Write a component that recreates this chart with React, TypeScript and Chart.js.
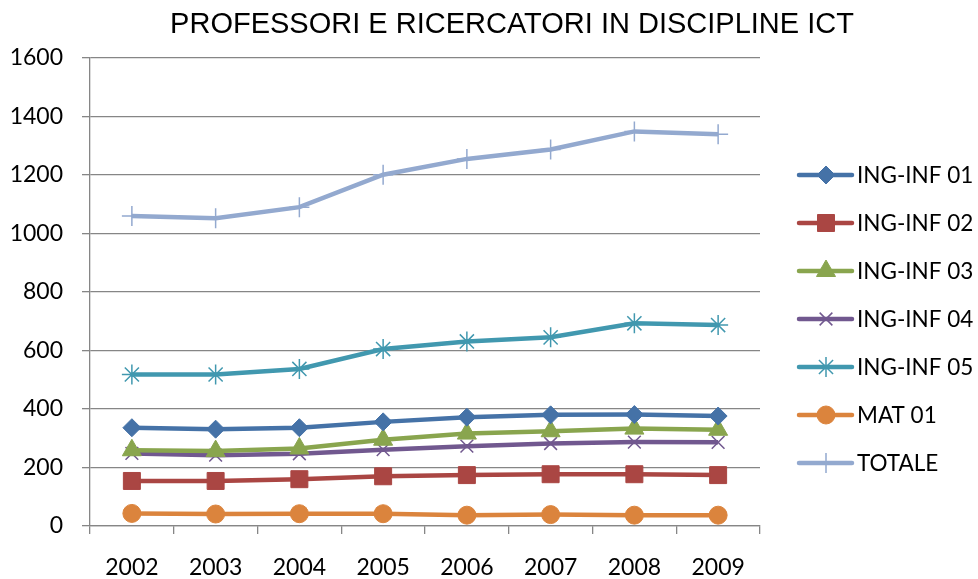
import React, { useEffect, useRef } from "react";
import { Chart, registerables } from "chart.js";
import { drawPoint } from "chart.js/helpers";

Chart.register(...registerables);

const years = ["2002", "2003", "2004", "2005", "2006", "2007", "2008", "2009"];
const ingInf01 = [336, 331, 336, 356, 372, 380, 381, 376];
const ingInf02 = [154, 154, 160, 170, 174, 177, 177, 174];
const ingInf03 = [259, 256, 265, 295, 316, 324, 333, 329];
const ingInf04 = [248, 242, 247, 261, 273, 282, 287, 286];
const ingInf05 = [518, 518, 537, 605, 631, 645, 693, 687];
const mat01 = [43, 41, 42, 42, 37, 39, 37, 37];
const totale = [1060, 1052, 1090, 1201, 1255, 1287, 1349, 1339];
const yTicks = [0, 200, 400, 600, 800, 1000, 1200, 1400, 1600];
const title = "PROFESSORI E RICERCATORI IN DISCIPLINE ICT";

const LABEL_FONT = "Lato, 'Open Sans', sans-serif";

export default function App() {
  const ref = useRef<HTMLCanvasElement | null>(null);

  useEffect(() => {
    if (!ref.current) return;
    const mk = (label: string, data: number[], color: string, style: any, radius: number, bw: number, fill = true) => ({
      label,
      data,
      borderColor: color,
      backgroundColor: color,
      borderWidth: 4.5,
      pointStyle: style,
      pointRadius: radius,
      pointBorderWidth: bw,
      pointBackgroundColor: fill ? color : "transparent",
      pointBorderColor: color,
      tension: 0,
    });
    const datasets = [
      mk("ING-INF 01", ingInf01, "#4572A7", "rectRot", 9, 1),
      mk("ING-INF 02", ingInf02, "#AA4643", "rect", 12, 1),
      mk("ING-INF 03", ingInf03, "#89A54E", "triangle", 11, 1),
      mk("ING-INF 04", ingInf04, "#71588F", "crossRot", 9, 1.5, false),
      mk("ING-INF 05", ingInf05, "#4198AF", "star", 10, 1.5, false),
      mk("MAT 01", mat01, "#DB843D", "circle", 9, 1),
      mk("TOTALE", totale, "#93A9CF", "cross", 10, 1.5, false),
    ];

    const legendPlugin = {
      id: "customLegend",
      afterDraw(chart: any) {
        const ctx = chart.ctx;
        ctx.save();
        ctx.fillStyle = "#000";
        ctx.font = "29px 'Liberation Sans', Arial, sans-serif";
        ctx.textAlign = "center";
        ctx.textBaseline = "middle";
        ctx.fillText(title, 512, 25);
        const x0 = 799, x1 = 852, xm = 826, tx = 857;
        chart.data.datasets.forEach((ds: any, i: number) => {
          const y = 175 + i * 48;
          ctx.strokeStyle = ds.borderColor;
          ctx.lineWidth = 4.5;
          ctx.lineCap = "round";
          ctx.beginPath();
          ctx.moveTo(x0, y);
          ctx.lineTo(x1, y);
          ctx.stroke();
          ctx.lineCap = "butt";
          ctx.fillStyle = ds.pointBackgroundColor;
          ctx.strokeStyle = ds.borderColor;
          ctx.lineWidth = ds.pointBorderWidth;
          drawPoint(ctx, { pointStyle: ds.pointStyle, radius: ds.pointRadius, rotation: 0, borderWidth: ds.pointBorderWidth } as any, xm, y);
          ctx.fillStyle = "#000";
          ctx.font = `22.5px ${LABEL_FONT}`;
          ctx.textAlign = "left";
          ctx.textBaseline = "middle";
          ctx.fillText(ds.label, tx, y + 1);
        });
        ctx.restore();
      },
    };

    const chart = new Chart(ref.current, {
      type: "line",
      data: { labels: years, datasets: datasets as any },
      options: {
        animation: false,
        responsive: false,
        maintainAspectRatio: false,
        layout: { padding: { top: 58, right: 218, left: 0, bottom: 0 } },
        plugins: {
          legend: { display: false },
          title: { display: false },
          tooltip: { enabled: false },
        },
        scales: {
          x: {
            type: "category",
            offset: true,
            grid: {
              display: true,
              offset: true,
              drawOnChartArea: false,
              drawTicks: true,
              tickLength: 8,
              color: "#868686",
              lineWidth: 1.3,
            },
            border: { color: "#868686", width: 1.3 },
            ticks: { color: "#000", font: { size: 23, family: LABEL_FONT }, padding: 20, maxRotation: 0 },
            afterFit(scale: any) {
              scale.height = 53;
            },
          },
          y: {
            min: 0,
            max: 1600,
            afterBuildTicks(scale: any) {
              scale.ticks = yTicks.map((v) => ({ value: v }));
            },
            grid: {
              color: "#868686",
              lineWidth: 1.3,
              drawTicks: true,
              tickLength: 8,
            },
            border: { color: "#868686", width: 1.3 },
            ticks: {
              color: "#000",
              font: { size: 23, family: LABEL_FONT },
              padding: 19,
              callback: (v: any) => String(v),
            },
            afterFit(scale: any) {
              scale.width = 90;
            },
          },
        },
      },
      plugins: [legendPlugin],
    });
    return () => chart.destroy();
  }, []);

  return (
    <div style={{ position: "fixed", left: 0, top: 0, width: 978, height: 579, background: "#fff" }}>
      <canvas ref={ref} width={978} height={579} style={{ width: 978, height: 579 }} />
    </div>
  );
}
